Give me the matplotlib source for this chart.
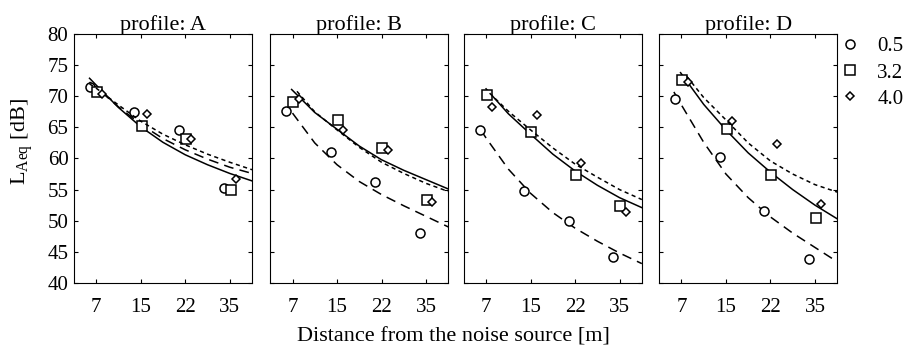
import matplotlib
matplotlib.use('Agg')
import matplotlib.pyplot as plt
from matplotlib.lines import Line2D

plt.rcParams['font.family'] = 'Liberation Serif'
plt.rcParams['mathtext.fontset'] = 'custom'
plt.rcParams['mathtext.rm'] = 'Liberation Serif'
plt.rcParams['mathtext.it'] = 'Liberation Serif:italic'
plt.rcParams['lines.scale_dashes'] = False

profiles = ['A', 'B', 'C', 'D']
distances = ['7', '15', '22', '35']
speeds = ['0.5', '3.2', '4.0']

# measured L_Aeq [dB], rows: 0.5, 3.2, 4.0
meas_A = [[71.5, 67.4, 64.6, 55.2], [70.7, 65.3, 63.2, 54.9], [70.3, 67.1, 63.1, 56.7]]
meas_B = [[67.7, 61.1, 56.3, 48.0], [69.1, 66.2, 61.7, 53.4], [69.6, 64.6, 61.4, 53.0]]
meas_C = [[64.6, 54.7, 49.9, 44.1], [70.2, 64.3, 57.4, 52.3], [68.2, 67.0, 59.35, 51.4]]
meas_D = [[69.6, 60.3, 51.5, 43.8], [72.6, 64.8, 57.4, 50.5], [72.3, 66.0, 62.3, 52.7]]

# fitted curves (x on the distance-category axis)
fitx_A = [[0.85, 1, 1.5, 2, 2.5, 3, 3.5, 4, 4.5]] * 3
fity_A = [[72.3, 71.4, 68.3, 65.5, 63.2, 61.4, 59.9, 58.6, 57.6],
          [72.9, 71.8, 68.2, 65.1, 62.6, 60.6, 59.0, 57.6, 56.4],
          [72.0, 71.3, 68.6, 66.0, 63.9, 62.2, 60.7, 59.4, 58.2]]
fitx_B = [[1.0, 1.5, 2, 2.5, 3, 3.5, 4, 4.5],
          [0.98, 1.5, 2, 2.5, 3, 3.5, 4, 4.5],
          [1.1, 1.5, 2, 2.5, 3, 3.5, 4, 4.5]]
fity_B = [[67.3, 62.5, 59.0, 56.3, 54.2, 52.4, 50.7, 49.0],
          [71.1, 67.4, 64.7, 62.0, 59.8, 58.1, 56.6, 55.1],
          [70.8, 67.5, 64.6, 61.8, 59.4, 57.6, 56.0, 54.7]]
fitx_C = [[0.88, 1, 1.5, 2, 2.5, 3, 3.5, 4, 4.5],
          [1.0, 1.5, 2, 2.5, 3, 3.5, 4, 4.5],
          [1.08, 1.5, 2, 2.5, 3, 3.5, 4, 4.5]]
fity_C = [[64.6, 63.3, 58.3, 54.4, 51.3, 48.8, 46.7, 44.8, 43.1],
          [71.2, 67.2, 63.9, 60.7, 58.0, 55.7, 53.7, 52.1],
          [70.5, 67.6, 64.6, 61.7, 59.1, 57.0, 55.0, 53.4]]
fitx_D = [[0.83, 1, 1.5, 2, 2.5, 3, 3.5, 4, 4.5],
          [0.98, 1.5, 2, 2.5, 3, 3.5, 4, 4.5],
          [1.12, 1.5, 2, 2.5, 3, 3.5, 4, 4.5]]
fity_D = [[70.7, 68.6, 62.6, 57.5, 53.7, 50.6, 48.0, 45.7, 43.4],
          [73.8, 68.7, 64.6, 60.9, 57.8, 55.0, 52.5, 50.3],
          [73.2, 69.8, 66.2, 62.5, 59.6, 57.5, 55.8, 54.6]]

meas = [meas_A, meas_B, meas_C, meas_D]
fitx = [fitx_A, fitx_B, fitx_C, fitx_D]
fity = [fity_A, fity_B, fity_C, fity_D]

markers = ['o', 's', 'D']
msizes = [6.5, 6.5, 3.8]
offsets = [-0.14, 0.02, 0.14]
styles = [(0, (7.0, 4.5)), '-', (0, (3.0, 2.5))]

fig = plt.figure(figsize=(9.13, 3.59), dpi=100)
lefts = [0.081, 0.296, 0.508, 0.722]
axes = []
for k, p in enumerate(profiles):
    ax = fig.add_axes([lefts[k], 0.212, 0.195, 0.693])
    axes.append(ax)
    pos = range(1, len(distances) + 1)
    for j in range(3):
        ax.plot(fitx[k][j], fity[k][j], color='black', lw=1.1, linestyle=styles[j])
        ax.plot([q + offsets[j] for q in pos], meas[k][j], linestyle='none',
                marker=markers[j], ms=msizes[j], mfc='white', mec='black', mew=1.1)
    ax.set_xlim(0.5, 4.5)
    ax.set_ylim(40, 80)
    ax.set_xticks(list(pos))
    ax.set_xticklabels(distances)
    ax.set_yticks(range(40, 81, 5))
    ax.tick_params(direction='in', top=True, right=True, labelsize=15, length=3)
    ax.tick_params(axis='x', pad=11)
    ax.tick_params(axis='y', pad=4)
    ax.set_title('profile: ' + p, fontsize=16, pad=3)
    if k > 0:
        ax.set_yticklabels([])

axes[0].set_ylabel(r'L$_{\mathrm{Aeq}}$ [dB]', fontsize=16)
axes[0].yaxis.set_label_coords(-0.22, 0.57)
fig.text(0.497, 0.062, 'Distance from the noise source [m]', ha='center', va='center', fontsize=16)

handles = [Line2D([], [], linestyle='none', marker=markers[j], ms=msizes[j],
                  mfc='white', mec='black', mew=1.1) for j in range(3)]
fig.legend(handles, speeds, loc='upper left', bbox_to_anchor=(0.897, 0.95),
           frameon=False, fontsize=15, handlelength=1.2, handletextpad=0.7,
           labelspacing=0.32)

fig.savefig('out.png', dpi=100)
